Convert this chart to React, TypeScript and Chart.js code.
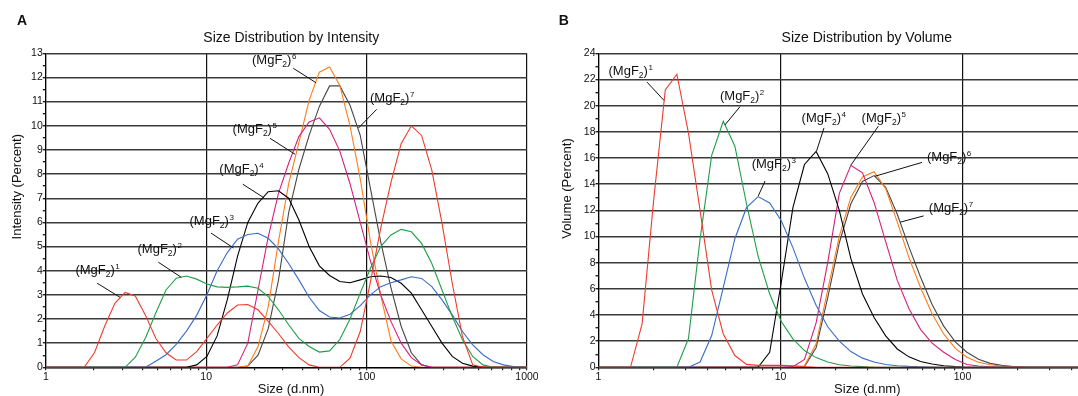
import React, { useEffect, useRef } from "react";
import { Chart, registerables } from "chart.js";

Chart.register(...registerables);

const FONT = "'Liberation Sans', Arial, Helvetica, sans-serif";

// Size classes (d.nm) of the instrument
const SIZE_CLASSES = [
  0.8332, 0.9649, 1.117, 1.294, 1.499, 1.736, 2.01, 2.328, 2.696, 3.122,
  3.615, 4.187, 4.849, 5.615, 6.503, 7.531, 8.721, 10.1, 11.7, 13.54,
  15.69, 18.17, 21.04, 24.36, 28.21, 32.67, 37.84, 43.82, 50.75, 58.77,
  68.06, 78.82, 91.28, 105.7, 122.4, 141.8, 164.2, 190.1, 220.2, 255.0,
  295.3, 342.0, 396.1, 458.7, 531.2, 615.1, 712.4, 825.0, 955.4, 1106,
];

const SERIES_NAMES = ["1", "2", "3", "4", "5", "6", "7"];

// ---- Size distribution by intensity (%) ----
const INTENSITY_1 = [
  0, 0, 0, 0, 0, 0, 0.6, 1.7, 2.65, 3.1,
  2.95, 2.15, 1.2, 0.6, 0.3, 0.3, 0.65, 1.2, 1.75, 2.25,
  2.58, 2.6, 2.38, 1.9, 1.4, 0.85, 0.4, 0.1, 0, 0,
  0, 0.38, 1.48, 3.55, 5.75, 7.65, 9.26, 10.0, 9.6, 8.16,
  5.96, 3.48, 1.27, 0.1, 0, 0, 0, 0, 0, 0,
];
const INTENSITY_2 = [
  0, 0, 0, 0, 0, 0, 0, 0, 0, 0,
  0.42, 1.22, 2.25, 3.2, 3.69, 3.78, 3.65, 3.45, 3.33, 3.31,
  3.33, 3.36, 3.27, 2.93, 2.38, 1.76, 1.2, 0.86, 0.63, 0.68,
  1.15, 2.0, 3.07, 4.1, 5.0, 5.48, 5.71, 5.61, 5.13, 4.3,
  3.2, 2.1, 1.14, 0.45, 0.1, 0, 0, 0, 0, 0,
];
const INTENSITY_3 = [
  0, 0, 0, 0, 0, 0, 0, 0, 0, 0,
  0, 0, 0.25, 0.52, 0.95, 1.5, 2.15, 3.0, 4.0, 4.75,
  5.3, 5.5, 5.55, 5.34, 4.9, 4.3, 3.62, 2.9, 2.35, 2.08,
  2.04, 2.2, 2.55, 3.0, 3.34, 3.5, 3.62, 3.75, 3.68, 3.34,
  2.79, 2.17, 1.48, 0.93, 0.52, 0.24, 0.1, 0.03, 0, 0,
];
const INTENSITY_4 = [
  0, 0, 0, 0, 0, 0, 0, 0, 0, 0,
  0, 0, 0, 0, 0, 0, 0.1, 0.45, 1.3, 2.8,
  4.6, 6.0, 6.8, 7.27, 7.31, 7.0, 6.1, 5.0, 4.2, 3.8,
  3.55, 3.5, 3.62, 3.75, 3.78, 3.72, 3.48, 3.07, 2.38, 1.69,
  1.0, 0.45, 0.17, 0.05, 0, 0, 0, 0, 0, 0,
];
const INTENSITY_5 = [
  0, 0, 0, 0, 0, 0, 0, 0, 0, 0,
  0, 0, 0, 0, 0, 0, 0, 0, 0, 0,
  0.1, 1.0, 3.2, 5.4, 7.2, 8.45, 9.55, 10.16, 10.33, 9.85,
  8.95, 7.6, 6.0, 4.4, 3.0, 1.9, 1.0, 0.4, 0.1, 0,
  0, 0, 0, 0, 0, 0, 0, 0, 0, 0,
];
const INTENSITY_6 = [
  0, 0, 0, 0, 0, 0, 0, 0, 0, 0,
  0, 0, 0, 0, 0, 0, 0, 0, 0, 0,
  0, 0.05, 0.86, 2.5, 5.2, 7.6, 9.3, 11.05, 12.22, 12.43,
  11.67, 10.0, 7.8, 5.2, 3.0, 1.1, 0.35, 0.05, 0, 0,
  0, 0, 0, 0, 0, 0, 0, 0, 0, 0,
];
const INTENSITY_7 = [
  0, 0, 0, 0, 0, 0, 0, 0, 0, 0,
  0, 0, 0, 0, 0, 0, 0, 0, 0, 0,
  0, 0.05, 0.5, 1.6, 3.6, 6.4, 8.2, 9.6, 10.8, 11.65,
  11.65, 10.85, 9.6, 7.4, 5.2, 3.3, 1.7, 0.6, 0.1, 0,
  0, 0, 0, 0, 0, 0, 0, 0, 0, 0,
];

// ---- Size distribution by volume (%) ----
const VOLUME_1 = [
  0, 0, 0, 0, 0, 3.32, 12.8, 21.2, 22.4, 17.9,
  12.0, 5.9, 2.55, 0.9, 0.22, 0.15, 0.15, 0.15, 0.12, 0.05,
  0, 0, 0, 0, 0, 0, 0, 0, 0, 0,
  0, 0, 0, 0, 0, 0, 0, 0, 0, 0,
  0, 0, 0, 0, 0, 0, 0, 0, 0, 0,
];
const VOLUME_2 = [
  0, 0, 0, 0, 0, 0, 0, 0, 0, 2.2,
  9.8, 16.2, 18.8, 16.9, 12.5, 8.5, 5.6, 3.5, 2.17, 1.28,
  0.74, 0.4, 0.2, 0.1, 0.05, 0, 0, 0, 0, 0,
  0, 0, 0, 0, 0, 0, 0, 0, 0, 0,
  0, 0, 0, 0, 0, 0, 0, 0, 0, 0,
];
const VOLUME_3 = [
  0, 0, 0, 0, 0, 0, 0, 0, 0, 0,
  0.4, 2.43, 6.1, 9.83, 12.2, 13.05, 12.56, 11.2, 9.15, 6.8,
  4.75, 3.1, 2.0, 1.2, 0.7, 0.4, 0.22, 0.12, 0.07, 0.04,
  0.02, 0, 0, 0, 0, 0, 0, 0, 0, 0,
  0, 0, 0, 0, 0, 0, 0, 0, 0, 0,
];
const VOLUME_4 = [
  0, 0, 0, 0, 0, 0, 0, 0, 0, 0,
  0, 0, 0, 0, 0, 0, 1.15, 6.5, 12.2, 15.5,
  16.5, 14.8, 12.0, 8.3, 5.6, 3.8, 2.4, 1.4, 0.8, 0.45,
  0.25, 0.12, 0.05, 0, 0, 0, 0, 0, 0, 0,
  0, 0, 0, 0, 0, 0, 0, 0, 0, 0,
];
const VOLUME_5 = [
  0, 0, 0, 0, 0, 0, 0, 0, 0, 0,
  0, 0, 0, 0, 0, 0, 0, 0, 0.05, 0.6,
  3.4, 8.0, 13.3, 15.44, 14.86, 12.6, 9.6, 6.64, 4.5, 2.9,
  1.85, 1.15, 0.6, 0.22, 0.1, 0.04, 0, 0, 0, 0,
  0, 0, 0, 0, 0, 0, 0, 0, 0, 0,
];
const VOLUME_6 = [
  0, 0, 0, 0, 0, 0, 0, 0, 0, 0,
  0, 0, 0, 0, 0, 0, 0, 0, 0, 0.1,
  1.8, 5.9, 10.0, 13.0, 14.55, 14.95, 13.66, 11.1, 8.4, 6.1,
  4.1, 2.55, 1.45, 0.77, 0.38, 0.2, 0.1, 0.04, 0, 0,
  0, 0, 0, 0, 0, 0, 0, 0, 0, 0,
];
const VOLUME_7 = [
  0, 0, 0, 0, 0, 0, 0, 0, 0, 0,
  0, 0, 0, 0, 0, 0, 0, 0, 0, 0.05,
  1.5, 5.3, 9.5, 12.5, 14.2, 14.65, 13.75, 11.7, 9.2, 6.9,
  4.8, 3.15, 1.95, 1.15, 0.62, 0.3, 0.15, 0.06, 0.02, 0,
  0, 0, 0, 0, 0, 0, 0, 0, 0, 0,
];

// ---- Axis ticks ----
const X_TICKS = [
  1, 2, 3, 4, 5, 6, 7, 8, 9,
  10, 20, 30, 40, 50, 60, 70, 80, 90,
  100, 200, 300, 400, 500, 600, 700, 800, 900, 1000,
];
const X_TICK_LABELS = [1, 10, 100, 1000];
const INTENSITY_TICK_LABELS = [0, 1, 2, 3, 4, 5, 6, 7, 8, 9, 10, 11, 12, 13];
const VOLUME_TICK_LABELS = [0, 2, 4, 6, 8, 10, 12, 14, 16, 18, 20, 22, 24];

// ---- Callout labels: [size, value] anchors ----
const INTENSITY_CALLOUTS = [
  { n: "1", at: [1.53, 3.85], from: [2.09, 3.48], to: [2.9, 2.9] },
  { n: "2", at: [3.73, 4.72], from: [5.03, 4.35], to: [6.98, 3.73] },
  { n: "3", at: [7.87, 5.89], from: [10.7, 5.56], to: [14.8, 4.94] },
  { n: "4", at: [12.07, 8.03], from: [16.9, 7.58], to: [22.9, 7.02] },
  { n: "5", at: [14.6, 9.69], from: [25.0, 9.48], to: [35.8, 8.82] },
  { n: "6", at: [19.3, 12.56], from: [34.9, 12.38], to: [48.4, 11.78] },
  { n: "7", at: [105, 11.0], from: [115.6, 10.68], to: [88.8, 9.9] },
];
const VOLUME_CALLOUTS = [
  { n: "1", at: [1.135, 22.35], from: [1.847, 21.8], to: [2.29, 20.4] },
  { n: "2", at: [4.65, 20.44], from: [5.99, 19.92], to: [4.95, 18.52] },
  { n: "3", at: [6.94, 15.21], from: [8.22, 14.24], to: [7.55, 13.1] },
  { n: "4", at: [13.06, 18.78], from: [17.34, 18.3], to: [15.77, 16.52] },
  { n: "5", at: [27.9, 18.78], from: [34.5, 18.43], to: [24.4, 15.47] },
  { n: "6", at: [63.8, 15.77], from: [59.9, 15.66], to: [33.0, 14.6] },
  { n: "7", at: [65.3, 11.87], from: [61.1, 11.57], to: [45.4, 11.09] },
];

const COLORS = ["#ef3b2c", "#1f9e48", "#3a6cc6", "#000000", "#d4207c", "#ff7b1c", "#474747"];

type Callout = { n: string; at: number[]; from: number[]; to: number[] };

type Panel = {
  series: number[][];
  yLabels: number[];
  yStep: number;
  canvasWidth: number;
  padRight: number;
  yAxisWidth: number;
  letter: string;
  letterX: number;
  title: string;
  titleX: number;
  xTitle: string;
  xTitleX: number;
  yTitle: string;
  yTitleX: number;
  yTitleY: number;
  callouts: Callout[];
};

const PANEL_A: Panel = {
  series: [INTENSITY_1, INTENSITY_2, INTENSITY_3, INTENSITY_4, INTENSITY_5, INTENSITY_6, INTENSITY_7],
  yLabels: INTENSITY_TICK_LABELS,
  yStep: 0.5,
  canvasWidth: 538,
  padRight: 11,
  yAxisWidth: 45.8,
  letter: "A",
  letterX: 17,
  title: "Size Distribution by Intensity",
  titleX: 291.3,
  xTitle: "Size (d.nm)",
  xTitleX: 291,
  yTitle: "Intensity (Percent)",
  yTitleX: 21,
  yTitleY: 186.7,
  callouts: INTENSITY_CALLOUTS,
};

const PANEL_B: Panel = {
  series: [VOLUME_1, VOLUME_2, VOLUME_3, VOLUME_4, VOLUME_5, VOLUME_6, VOLUME_7],
  yLabels: VOLUME_TICK_LABELS,
  yStep: 1,
  canvasWidth: 620,
  padRight: 13.5,
  yAxisWidth: 60.5,
  letter: "B",
  letterX: 20.7,
  title: "Size Distribution by Volume",
  titleX: 328.8,
  xTitle: "Size (d.nm)",
  xTitleX: 329.3,
  yTitle: "Volume (Percent)",
  yTitleX: 32.5,
  yTitleY: 188.5,
  callouts: VOLUME_CALLOUTS,
};

const TOP = 53.3;
const X_AXIS_HEIGHT = 28.7;

function drawMgF(ctx: CanvasRenderingContext2D, x: number, y: number, n: string) {
  ctx.textAlign = "left";
  ctx.textBaseline = "alphabetic";
  ctx.font = `13px ${FONT}`;
  ctx.fillText("(MgF", x, y);
  let w = ctx.measureText("(MgF").width;
  ctx.font = `8.5px ${FONT}`;
  ctx.fillText("2", x + w, y + 3);
  w += ctx.measureText("2").width;
  ctx.font = `13px ${FONT}`;
  ctx.fillText(")", x + w, y);
  w += ctx.measureText(")").width;
  ctx.font = `8px ${FONT}`;
  ctx.fillText(n, x + w + 0.5, y - 5);
}

function makeDecor(p: Panel) {
  return {
    id: "decor" + p.letter,
    afterDatasetsDraw(chart: any) {
      const ctx: CanvasRenderingContext2D = chart.ctx;
      const xs = chart.scales.x;
      const ys = chart.scales.y;
      ctx.save();
      ctx.fillStyle = "#111";
      ctx.strokeStyle = "#111";
      ctx.textBaseline = "alphabetic";
      ctx.textAlign = "left";
      ctx.font = `bold 14px ${FONT}`;
      ctx.fillText(p.letter, p.letterX, 24.5);
      ctx.textAlign = "center";
      ctx.font = `14px ${FONT}`;
      ctx.fillText(p.title, p.titleX, 42);
      ctx.font = `13px ${FONT}`;
      ctx.fillText(p.xTitle, p.xTitleX, 392.5);
      ctx.save();
      ctx.translate(p.yTitleX, p.yTitleY);
      ctx.rotate(-Math.PI / 2);
      ctx.fillText(p.yTitle, 0, 0);
      ctx.restore();
      ctx.lineWidth = 1;
      for (const c of p.callouts) {
        ctx.beginPath();
        ctx.moveTo(xs.getPixelForValue(c.from[0]), ys.getPixelForValue(c.from[1]));
        ctx.lineTo(xs.getPixelForValue(c.to[0]), ys.getPixelForValue(c.to[1]));
        ctx.stroke();
        drawMgF(ctx, xs.getPixelForValue(c.at[0]), ys.getPixelForValue(c.at[1]), c.n);
      }
      ctx.restore();
    },
  };
}

function makeConfig(p: Panel): any {
  const yMax = p.yLabels[p.yLabels.length - 1];
  const yTicks: number[] = [];
  for (let v = 0; v <= yMax + 1e-9; v += p.yStep) yTicks.push(Math.round(v * 10) / 10);
  return {
    type: "line",
    data: {
      datasets: p.series.map((vals, i) => ({
        label: "(MgF2)" + SERIES_NAMES[i],
        data: SIZE_CLASSES.map((s, k) => ({ x: s, y: vals[k] })),
        borderColor: COLORS[i],
        backgroundColor: COLORS[i],
        borderWidth: 1.1,
        pointRadius: 0,
        fill: false,
        tension: 0,
      })),
    },
    options: {
      animation: false,
      responsive: false,
      maintainAspectRatio: false,
      devicePixelRatio: 1,
      events: [],
      layout: { padding: { left: 0, top: TOP, right: p.padRight, bottom: 0 } },
      plugins: {
        legend: { display: false },
        title: { display: false },
        tooltip: { enabled: false },
      },
      scales: {
        x: {
          type: "logarithmic",
          min: 1,
          max: 1000,
          afterBuildTicks(scale: any) {
            scale.ticks = X_TICKS.map((v) => ({ value: v }));
          },
          afterFit(scale: any) {
            scale.height = X_AXIS_HEIGHT;
            scale.paddingLeft = 0;
            scale.paddingRight = 0;
          },
          border: { display: true, color: "#000", width: 1.2 },
          grid: {
            color: (c: any) =>
              c.tick && X_TICK_LABELS.includes(c.tick.value) ? "#111" : "rgba(0,0,0,0)",
            tickColor: "#222",
            tickLength: 3,
            lineWidth: 1.2,
          },
          ticks: {
            autoSkip: false,
            maxRotation: 0,
            minRotation: 0,
            padding: 1,
            color: "#111",
            font: { family: FONT, size: 10.5 },
            callback: (v: number) => (X_TICK_LABELS.includes(v) ? String(v) : ""),
          },
        },
        y: {
          type: "linear",
          min: 0,
          max: yMax,
          afterBuildTicks(scale: any) {
            scale.ticks = yTicks.map((v) => ({ value: v }));
          },
          afterFit(scale: any) {
            scale.width = p.yAxisWidth;
            scale.paddingTop = 0;
            scale.paddingBottom = 0;
          },
          border: { display: true, color: "#000", width: 1.2 },
          grid: {
            color: (c: any) =>
              c.tick && p.yLabels.includes(c.tick.value) ? "#3a3a3a" : "rgba(0,0,0,0)",
            tickColor: "#222",
            tickLength: 3,
            lineWidth: 1.4,
          },
          ticks: {
            autoSkip: false,
            padding: 0,
            color: "#111",
            font: { family: FONT, size: 10.5 },
            callback: (v: number) => (p.yLabels.includes(v) ? String(v) : ""),
          },
        },
      },
    },
    plugins: [makeDecor(p)],
  };
}

export default function App() {
  const aRef = useRef<HTMLCanvasElement>(null);
  const bRef = useRef<HTMLCanvasElement>(null);
  useEffect(() => {
    const a = new Chart(aRef.current as HTMLCanvasElement, makeConfig(PANEL_A));
    const b = new Chart(bRef.current as HTMLCanvasElement, makeConfig(PANEL_B));
    return () => {
      a.destroy();
      b.destroy();
    };
  }, []);
  return (
    <div
      style={{
        position: "absolute",
        left: 0,
        top: 0,
        width: 1078,
        height: 396,
        overflow: "hidden",
        background: "#fff",
      }}
    >
      <canvas
        ref={aRef}
        width={PANEL_A.canvasWidth}
        height={396}
        style={{ position: "absolute", left: 0, top: 0, width: PANEL_A.canvasWidth, height: 396 }}
      />
      <canvas
        ref={bRef}
        width={PANEL_B.canvasWidth}
        height={396}
        style={{ position: "absolute", left: 538, top: 0, width: PANEL_B.canvasWidth, height: 396 }}
      />
    </div>
  );
}
